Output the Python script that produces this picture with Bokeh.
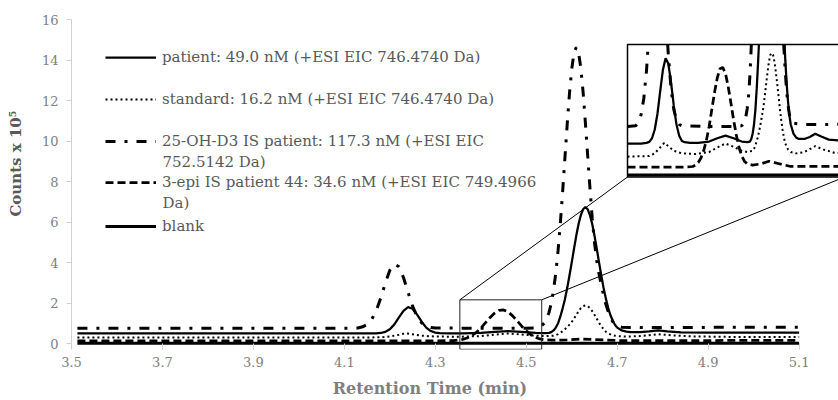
import math
from bokeh.plotting import figure
from bokeh.models import (Range1d, FixedTicker, NumeralTickFormatter, Legend,
                          LegendItem, Label)
from bokeh.core.properties import value
from bokeh.embed import file_html
from bokeh.resources import INLINE

# ---------------- data ----------------
X_TICKS = [3.5, 3.7, 3.9, 4.1, 4.3, 4.5, 4.7, 4.9, 5.1]
Y_TICKS = [0, 2, 4, 6, 8, 10, 12, 14, 16]

PATIENT_T = [3.513, 3.7, 3.9, 4.1, 4.15, 4.17, 4.18, 4.19, 4.20, 4.21, 4.22, 4.23,
             4.24, 4.25, 4.26, 4.27, 4.28, 4.29, 4.30, 4.31, 4.33, 4.36, 4.40, 4.43,
             4.46, 4.49, 4.52, 4.54, 4.55, 4.555, 4.56, 4.565, 4.57, 4.575, 4.58,
             4.585, 4.59, 4.595, 4.60, 4.605, 4.61, 4.615, 4.62, 4.625, 4.63, 4.635,
             4.64, 4.645, 4.65, 4.655, 4.66, 4.665, 4.67, 4.675, 4.68, 4.685, 4.69,
             4.695, 4.70, 4.71, 4.72, 4.73, 4.75, 4.77, 4.79, 4.81, 4.84, 4.90, 5.0, 5.1]
PATIENT_V = [0.51, 0.51, 0.51, 0.51, 0.51, 0.52, 0.535, 0.59, 0.72, 0.96, 1.30, 1.63,
             1.81, 1.73, 1.44, 1.09, 0.80, 0.63, 0.55, 0.53, 0.52, 0.52, 0.54, 0.59,
             0.63, 0.59, 0.54, 0.53, 0.54, 0.58, 0.66, 0.80, 1.02, 1.35, 1.75,
             2.20, 2.75, 3.37, 4.02, 4.69, 5.34, 5.91, 6.35, 6.64, 6.74, 6.64,
             6.35, 5.91, 5.34, 4.69, 4.02, 3.37, 2.76, 2.23, 1.78, 1.42, 1.15,
             0.94, 0.80, 0.66, 0.60, 0.58, 0.58, 0.61, 0.66, 0.62, 0.57, 0.55, 0.55, 0.55]

STANDARD_T = [3.513, 3.7, 3.9, 4.1, 4.18, 4.20, 4.22, 4.235, 4.25, 4.27, 4.30, 4.35,
              4.40, 4.43, 4.46, 4.49, 4.52, 4.54, 4.56, 4.565, 4.57, 4.575, 4.58,
              4.585, 4.59, 4.595, 4.60, 4.605, 4.61, 4.615, 4.62, 4.625, 4.63, 4.635,
              4.64, 4.645, 4.65, 4.655, 4.66, 4.665, 4.67, 4.675, 4.68, 4.69, 4.70,
              4.72, 4.75, 4.79, 4.82, 4.86, 4.95, 5.1]
STANDARD_V = [0.31, 0.31, 0.31, 0.31, 0.32, 0.36, 0.45, 0.52, 0.47, 0.40, 0.36, 0.35,
              0.38, 0.45, 0.51, 0.46, 0.40, 0.38, 0.40, 0.43, 0.48, 0.55, 0.62,
              0.72, 0.83, 0.95, 1.08, 1.25, 1.43, 1.61, 1.76, 1.86, 1.89, 1.86,
              1.76, 1.61, 1.43, 1.24, 1.04, 0.87, 0.72, 0.60, 0.51, 0.42, 0.38,
              0.36, 0.38, 0.47, 0.42, 0.37, 0.34, 0.34]

IS25_T = [3.513, 3.7, 3.9, 4.1, 4.13, 4.14, 4.15, 4.16, 4.17, 4.18, 4.19, 4.20, 4.21,
          4.22, 4.23, 4.24, 4.25, 4.26, 4.27, 4.28, 4.29, 4.30, 4.40, 4.50, 4.52, 4.53,
          4.535, 4.54, 4.545, 4.55, 4.555, 4.56, 4.565, 4.57, 4.575, 4.58, 4.585,
          4.59, 4.595, 4.60, 4.605, 4.61, 4.615, 4.62, 4.625, 4.63, 4.635, 4.64,
          4.645, 4.65, 4.655, 4.66, 4.665, 4.67, 4.675, 4.68, 4.685, 4.69, 4.695,
          4.70, 4.71, 4.75, 4.85, 4.95, 5.1]
IS25_V = [0.77, 0.77, 0.77, 0.77, 0.78, 0.84, 0.95, 1.20, 1.63, 2.26, 2.99, 3.63, 3.94,
          3.80, 3.27, 2.55, 1.86, 1.35, 1.03, 0.87, 0.80, 0.78, 0.77, 0.77, 0.78, 0.85,
          0.92, 1.04, 1.24, 1.55, 2.00, 2.65, 3.51, 4.62, 5.97, 7.52, 9.18,
          10.83, 12.35, 13.56, 14.36, 14.63, 14.36, 13.6, 12.4, 10.9, 9.3, 7.7,
          6.2, 5.0, 4.1, 3.45, 2.9, 2.4, 1.95, 1.6, 1.3, 1.1, 0.95,
          0.87, 0.82, 0.80, 0.80, 0.82, 0.82]

EPI3_T = [3.513, 3.7, 3.9, 4.1, 4.30, 4.34, 4.35, 4.36, 4.37, 4.38, 4.39, 4.40, 4.41,
          4.42, 4.43, 4.44, 4.45, 4.46, 4.47, 4.48, 4.49, 4.50, 4.51, 4.52, 4.53, 4.54,
          4.56, 4.59, 4.62, 4.65, 4.70, 4.80, 5.1]
EPI3_V = [0.15, 0.15, 0.15, 0.15, 0.15, 0.16, 0.18, 0.22, 0.29, 0.40, 0.56, 0.77, 1.03,
          1.29, 1.51, 1.65, 1.67, 1.58, 1.38, 1.13, 0.87, 0.64, 0.45, 0.32, 0.24, 0.20,
          0.18, 0.20, 0.24, 0.21, 0.16, 0.16, 0.17]

BLANK_T = [3.513, 4.0, 4.5, 5.1]
BLANK_V = [0.03, 0.03, 0.03, 0.03]

LABELS = ["patient: 49.0 nM (+ESI EIC 746.4740 Da)",
          "standard: 16.2 nM (+ESI EIC 746.4740 Da)",
          "25-OH-D3 IS patient: 117.3 nM (+ESI EIC",
          "3-epi IS patient 44: 34.6 nM (+ESI EIC 749.4966",
          "blank"]
LABEL_CONT = {2: "752.5142 Da)", 3: "Da)"}
X_TITLE = "Retention Time (min)"
Y_TITLE = "Counts x 10\u2075"

# zoom window (main data coords) and the inset that magnifies it
ZOOM_T = (4.354, 4.534)
ZOOM_V = (-0.27, 2.17)
INSET_WIN_T = (4.10, 4.898)
INSET_WIN_V = (0.0, 2.02)
INSET_AT_T = (4.7226, 5.20)
INSET_AT_V = (8.23, 14.77)

for a, b in [(PATIENT_T, PATIENT_V), (STANDARD_T, STANDARD_V), (IS25_T, IS25_V),
             (EPI3_T, EPI3_V), (BLANK_T, BLANK_V)]:
    assert len(a) == len(b), (len(a), len(b))

# ---------------- figure ----------------
W, H = 838, 400
BL, BR, BT, BB = 71, 0, 19, 51
X0 = 3.5
PXPM = 454.77
X1 = X0 + (W - BL - BR) / PXPM
Y0, Y1 = -0.28, 16.0

p = figure(width=W, height=H, x_range=Range1d(X0, X1), y_range=Range1d(Y0, Y1),
           output_backend="svg", toolbar_location=None,
           min_border_left=BL, min_border_right=BR, min_border_top=BT,
           min_border_bottom=BB)
p.outline_line_color = None
p.xgrid.visible = False
p.ygrid.visible = False
p.background_fill_color = "white"
p.border_fill_color = "white"

AX_COL = "#d0d0d0"
TICK_COL = "#808080"
FONT = "DejaVu Serif"
for ax in (p.xaxis[0], p.yaxis[0]):
    ax.axis_line_color = AX_COL
    ax.major_tick_line_color = AX_COL
    ax.minor_tick_line_color = None
    ax.major_label_text_font = FONT
    ax.major_label_text_font_size = "13px"
    ax.major_label_text_color = TICK_COL
    ax.axis_label_text_font = FONT
    ax.axis_label_text_font_style = "bold"

xa = p.xaxis[0]
xa.ticker = FixedTicker(ticks=X_TICKS)
xa.formatter = NumeralTickFormatter(format="0.0")
xa.bounds = (X_TICKS[0], X_TICKS[-1])
xa.axis_line_color = None
xa.major_tick_in = 6
xa.major_tick_out = 0
xa.major_label_standoff = 7
xa.axis_label = X_TITLE + "\u00a0" * 9
xa.axis_label_standoff = 9
xa.axis_label_text_font_size = "16px"
xa.axis_label_text_color = "#7f7f7f"

ya = p.yaxis[0]
ya.ticker = FixedTicker(ticks=Y_TICKS)
ya.formatter = NumeralTickFormatter(format="0")
ya.bounds = (Y_TICKS[0], Y_TICKS[-1])
ya.major_tick_in = 0
ya.major_tick_out = 5
ya.major_label_standoff = 8
ya.axis_label = "\u00a0" * 8 + Y_TITLE
ya.axis_label_standoff = 14
ya.axis_label_text_font_size = "15px"
ya.axis_label_text_color = "#595959"

STYLES = [
    dict(line_color="black", line_width=2.25),
    dict(line_color="black", line_width=2, line_dash="2 3"),
    dict(line_color="black", line_width=3, line_dash="10 9 3 9"),
    dict(line_color="black", line_width=2.75, line_dash="8 4"),
    dict(line_color="black", line_width=3),
]
SERIES = [(PATIENT_T, PATIENT_V), (STANDARD_T, STANDARD_V), (IS25_T, IS25_V),
          (EPI3_T, EPI3_V), (BLANK_T, BLANK_V)]

renderers = []
for (t, v), st in zip(SERIES, STYLES):
    renderers.append(p.line(t, v, **st))

# zoom box and connectors
p.quad(left=[ZOOM_T[0]], right=[ZOOM_T[1]], bottom=[ZOOM_V[0]], top=[ZOOM_V[1]],
       fill_color=None, line_color="#222222", line_width=1)
p.segment(x0=[ZOOM_T[0], ZOOM_T[1]], y0=[ZOOM_V[1], ZOOM_V[1]],
          x1=[INSET_AT_T[0], INSET_AT_T[1]], y1=[INSET_AT_V[0], INSET_AT_V[0]],
          line_color="black", line_width=1)

# inset frame
p.quad(left=[INSET_AT_T[0]], right=[INSET_AT_T[1]], bottom=[INSET_AT_V[0]],
       top=[INSET_AT_V[1]], fill_color="white", line_color="black", line_width=1.5)


def lin(a0, a1, b0, b1, x):
    return b0 + (x - a0) * (b1 - b0) / (a1 - a0)


p.extra_x_ranges = {"ix": Range1d(lin(INSET_AT_T[0], INSET_AT_T[1], INSET_WIN_T[0], INSET_WIN_T[1], X0),
                                  lin(INSET_AT_T[0], INSET_AT_T[1], INSET_WIN_T[0], INSET_WIN_T[1], X1))}
p.extra_y_ranges = {"iy": Range1d(lin(INSET_AT_V[0], INSET_AT_V[1], INSET_WIN_V[0], INSET_WIN_V[1], Y0),
                                  lin(INSET_AT_V[0], INSET_AT_V[1], INSET_WIN_V[0], INSET_WIN_V[1], Y1))}


def clip_poly(ts, vs, x0, x1, y0, y1):
    ot, ov = [], []
    for i in range(len(ts) - 1):
        ax_, ay_, bx_, by_ = ts[i], vs[i], ts[i + 1], vs[i + 1]
        dx, dy = bx_ - ax_, by_ - ay_
        u0, u1 = 0.0, 1.0
        ok = True
        for pp, qq in ((-dx, ax_ - x0), (dx, x1 - ax_), (-dy, ay_ - y0), (dy, y1 - ay_)):
            if pp == 0:
                if qq < 0:
                    ok = False
                    break
            else:
                r = qq / pp
                if pp < 0:
                    if r > u1:
                        ok = False
                        break
                    u0 = max(u0, r)
                else:
                    if r < u0:
                        ok = False
                        break
                    u1 = min(u1, r)
        if not ok:
            continue
        sx, sy = ax_ + u0 * dx, ay_ + u0 * dy
        ex, ey = ax_ + u1 * dx, ay_ + u1 * dy
        if ot and not math.isnan(ot[-1]) and (abs(ot[-1] - sx) > 1e-12 or abs(ov[-1] - sy) > 1e-12):
            ot.append(float("nan"))
            ov.append(float("nan"))
        if not ot or math.isnan(ot[-1]):
            ot.append(sx)
            ov.append(sy)
        ot.append(ex)
        ov.append(ey)
    return ot, ov


for (t, v), st in zip(SERIES, STYLES):
    ct, cv = clip_poly(t, v, INSET_WIN_T[0], INSET_WIN_T[1], INSET_WIN_V[0], INSET_WIN_V[1])
    p.line(ct, cv, x_range_name="ix", y_range_name="iy", **st)

# legends (one per entry, placed like the original)
FRAME_BOTTOM = H - BB
LEG_X = 34
LEG_H = 20
LEG_CENTERS = [57, 98.5, 141, 182, 226]
LEG_FS = "15px"
for i, (r, lab) in enumerate(zip(renderers, LABELS)):
    c = LEG_CENTERS[i]
    leg = Legend(items=[LegendItem(label=value(lab), renderers=[r])],
                 location=(LEG_X, FRAME_BOTTOM - (c + LEG_H / 2)),
                 padding=0, margin=0, spacing=0, glyph_width=51,
                 glyph_height=LEG_H, label_height=LEG_H, label_standoff=6,
                 border_line_color=None, background_fill_alpha=0,
                 label_text_font=FONT, label_text_font_size=LEG_FS,
                 label_text_color="#595959")
    p.add_layout(leg)

CONT_Y = {2: 161, 3: 202}
for i, txt in LABEL_CONT.items():
    p.add_layout(Label(x=LEG_X + 57, y=FRAME_BOTTOM - CONT_Y[i], x_units="screen",
                       y_units="screen", text=txt, text_font=FONT, text_font_size=LEG_FS,
                       text_color="#595959", text_baseline="middle", text_align="left"))

open("out.html", "w").write(file_html(p, INLINE))
